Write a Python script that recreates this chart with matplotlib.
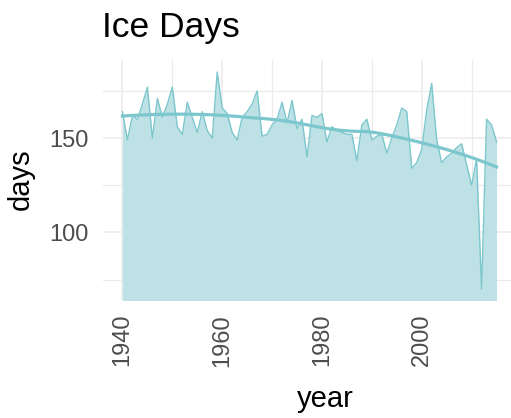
import numpy as np
import matplotlib
matplotlib.use("Agg")
import matplotlib.pyplot as plt
from matplotlib.ticker import MultipleLocator

plt.rcParams['font.family'] = ['Liberation Sans', 'DejaVu Sans']

# ice days per winter
years = np.arange(1940, 2016)
days = [164, 149, 162, 160, 168, 177, 150, 171, 161, 168,
        177, 156, 152, 169, 161, 153, 164, 154, 150, 185,
        166, 163, 153, 149, 161, 164, 168, 175, 151, 152,
        157, 160, 169, 158, 170, 155, 160, 140, 162, 161,
        163, 148, 156, 154, 153, 152, 152, 138, 157, 160,
        149, 151, 152, 142, 150, 157, 166, 164, 134, 137,
        144, 165, 179, 149, 137, 140, 142, 145, 147, 136,
        125, 139, 70, 160, 157, 148]

FILL = '#bde1e5'
LINE = '#7cc7cd'
W, H = 511, 418


def loess(x, y, xs, span=0.75):
    """local quadratic fit with tricube weights (like R's loess)"""
    x = np.asarray(x, float)
    y = np.asarray(y, float)
    q = int(np.ceil(span * len(x)))
    out = []
    for x0 in xs:
        d = np.abs(x - x0)
        h = np.sort(d)[q - 1]
        w = np.clip(1 - (d / h) ** 3, 0, None) ** 3
        X = np.vstack([np.ones_like(x), x - x0, (x - x0) ** 2]).T
        sw = np.sqrt(w)
        beta = np.linalg.lstsq(X * sw[:, None], y * sw, rcond=None)[0]
        out.append(beta[0])
    return np.array(out)


fig = plt.figure(figsize=(W / 100, H / 100), dpi=100)
ax = fig.add_axes([103 / W, 118 / H, 408 / W, 240 / H])

ax.fill_between(years, days, 0, color=FILL, lw=0)
ax.plot(years, days, color=LINE, lw=1.0)

xs = np.linspace(years.min(), years.max(), 80)
ax.plot(xs, loess(years, days, xs), color=LINE, lw=2.3)

ax.set_xlim(1936.1, 2017.9)
ax.set_ylim(64.2, 191.4)

ax.xaxis.set_major_locator(MultipleLocator(20))
ax.xaxis.set_minor_locator(MultipleLocator(10))
ax.yaxis.set_major_locator(MultipleLocator(50))
ax.yaxis.set_minor_locator(MultipleLocator(25))
ax.grid(True, which='major', color='#ebebeb', lw=1.1)
ax.grid(True, which='minor', color='#ebebeb', lw=0.9)
ax.set_axisbelow(True)
for s in ax.spines.values():
    s.set_visible(False)
ax.tick_params(which='both', length=0)
ax.tick_params(axis='y', labelsize=17, labelcolor='#4d4d4d', pad=10.5)
ax.tick_params(axis='x', labelsize=17, labelcolor='#4d4d4d', pad=10,
               labelrotation=90)
for lab in ax.get_xticklabels():
    lab.set_va('top')

fig.text(102 / W, 1 - 37.3 / H, 'Ice Days', fontsize=25.5, va='baseline',
         ha='left')
ax.set_xlabel('year', fontsize=21)
ax.set_ylabel('days', fontsize=21)
ax.xaxis.set_label_coords((325 - 103) / 408, -(385 - 300) / 240)
ax.yaxis.set_label_coords(-(103 - 35) / 408, (300 - 179) / 240)

fig.savefig('out.png', dpi=100, facecolor='white')
